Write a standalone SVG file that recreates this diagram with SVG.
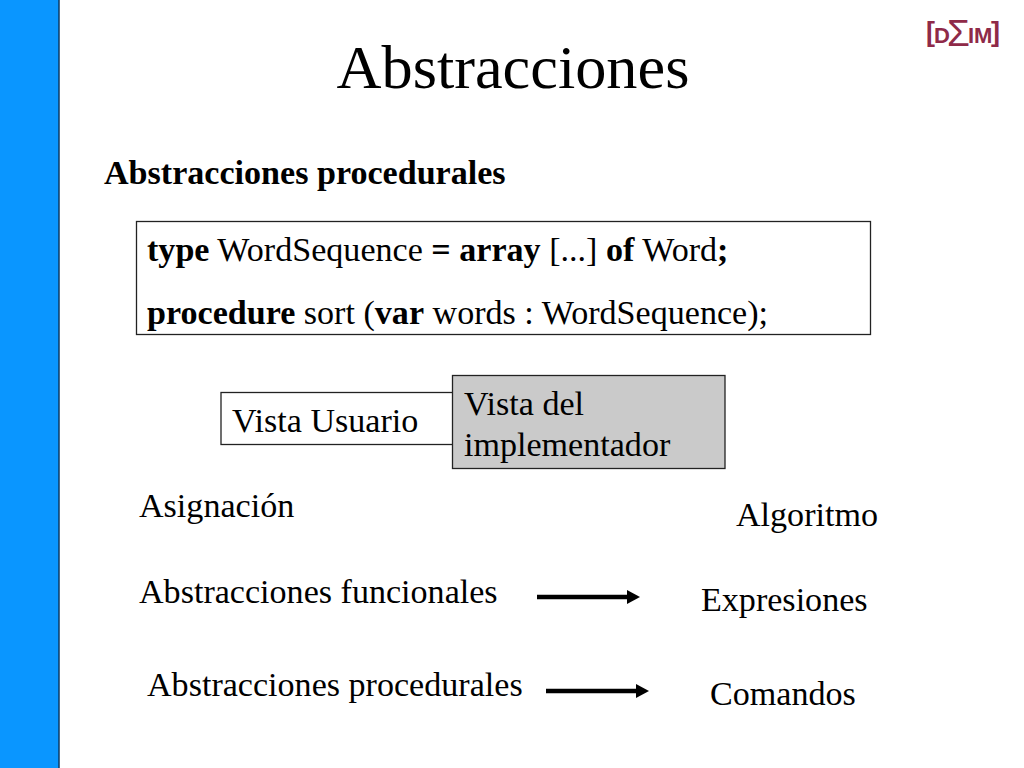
<svg xmlns="http://www.w3.org/2000/svg" width="1024" height="768" viewBox="0 0 1024 768">
<style>
text{font-family:"Liberation Serif","Times New Roman",serif;fill:#000;font-size:34.100px}
.b{font-weight:bold}
.box{stroke:#222;stroke-width:1.3}
.logo{font-family:"Liberation Sans",Arial,sans-serif;font-weight:bold;fill:#8f2a48}
.arrow{stroke:#000;stroke-width:4.500;fill:none;marker-end:url(#ah)}
</style>
<defs>
<marker id="ah" markerUnits="userSpaceOnUse" markerWidth="14" markerHeight="15" refX="1" refY="7.500" orient="auto"><path d="M0 0.5L13 7.500L0 14.500z" fill="#000"/></marker>
</defs>
<rect width="1024" height="768" fill="#fff"/>
<g id="sidebar"><rect x="-1" y="-1" width="60" height="770" fill="#0a96ff" stroke="#0b3a66" stroke-width="1.500"/></g>
<g id="logo">
<text class="logo" style="font-size:22px"><tspan x="926" y="41" style="font-size:27px">[</tspan><tspan x="934" y="43">D</tspan><tspan x="947" y="46" style="font-size:37px;font-weight:normal">Σ</tspan><tspan x="968" y="43">IM</tspan><tspan x="991" y="41" style="font-size:27px">]</tspan></text>
</g>
<g id="title"><text x="336.500" y="88" style="font-size:62.300px">Abstracciones</text></g>
<g id="heading"><text class="b" x="104" y="184">Abstracciones procedurales</text></g>
<g id="code">
<rect class="box" x="136.500" y="221.500" width="734" height="113" fill="#fff"/>
<text x="147" y="261"><tspan class="b">type</tspan> WordSequence <tspan class="b">= array</tspan> [...] <tspan class="b">of</tspan> Word<tspan class="b">;</tspan></text>
<text x="147" y="324"><tspan class="b">procedure</tspan> sort (<tspan class="b">var</tspan> words : WordSequence);</text>
</g>
<g id="vista-usuario">
<rect class="box" x="221" y="392.500" width="240" height="52" fill="#fff"/>
<text x="232" y="432">Vista Usuario</text>
</g>
<g id="vista-implementador">
<rect class="box" x="452.500" y="375.500" width="272.500" height="93" fill="#cacaca"/>
<text x="464" y="415">Vista del</text>
<text x="464" y="456">implementador</text>
</g>
<g id="asignacion"><text x="139" y="517">Asignación</text></g>
<g id="algoritmo"><text x="736" y="526">Algoritmo</text></g>
<g id="funcionales"><text x="139" y="603">Abstracciones funcionales</text></g>
<g id="expresiones"><text x="701" y="611">Expresiones</text></g>
<g id="procedurales"><text x="147" y="696">Abstracciones procedurales</text></g>
<g id="comandos"><text x="710" y="705">Comandos</text></g>
<g id="connectors">
<path class="arrow" d="M537 597H628"/>
<path class="arrow" d="M546 691H637"/>
</g>
</svg>
